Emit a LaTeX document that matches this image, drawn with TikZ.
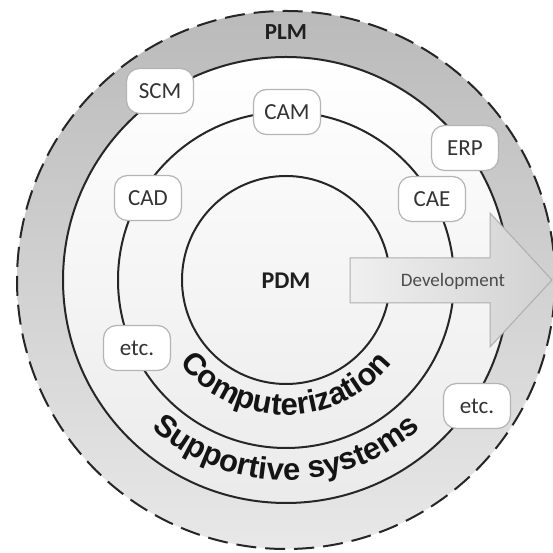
\documentclass[tikz,border=0pt]{standalone}
\usepackage{fontspec}
\setmainfont{Carlito}
\newfontfamily\arcfont{Liberation Sans}
\usetikzlibrary{decorations.text}
\definecolor{ink}{HTML}{262626}
\definecolor{tagline}{HTML}{B4B4B4}
\definecolor{tagtext}{HTML}{333333}
\definecolor{arrowline}{HTML}{AEAEAE}
\begin{document}
\begin{tikzpicture}[x=1pt,y=1pt,
  ring/.style={draw=ink,line width=2pt},
  tag/.style={draw=tagline,line width=1.2pt,fill=white,rounded corners=13pt,
    minimum width=67pt,minimum height=45pt,inner sep=0pt,
    font=\fontsize{23}{23}\selectfont,text=tagtext},
  curved/.style={decorate,decoration={text along path,text align=center,
    text={|\arcfont\bfseries\fontsize{31}{31}\selectfont\color{black!92}|#1}}}
  ]
\useasboundingbox (0,0) rectangle (552,553);
\coordinate (C) at (286,273);

% PLM band between the dashed boundary and the supportive ring
\shade[top color=black!27,bottom color=black!9] (C) circle[radius=269];
\draw[ink,line width=2pt,dash pattern=on 20pt off 9pt] (C) circle[radius=269];

% inner area
\shade[top color=white,bottom color=black!8] (C) circle[radius=223];
\draw[ring] (C) circle[radius=223];
\draw[ring] (C) circle[radius=168];
\draw[ring] (C) circle[radius=104];

% curved ring labels
\path[curved={Computerization}] (C) ++(200:135) arc[start angle=200,end angle=340,radius=135];
\path[curved={Supportive systems}] (C) ++(195:200) arc[start angle=195,end angle=345,radius=200];

% development arrow
\path[draw=arrowline,line width=1pt,left color=black!6,right color=black!18]
  (350,295) -- (490,295) -- (490,340) -- (552,273) -- (490,206) -- (490,250) -- (350,250) -- cycle;
\node[font=\fontsize{19}{19}\selectfont,text=black!70] (dev) at (453,272) {Development};

% centre and title
\node[font=\bfseries\fontsize{24}{24}\selectfont,text=black!88] (pdm) at (286,272) {PDM};
\node[font=\bfseries\fontsize{23}{23}\selectfont,text=black!88] (plm) at (286,521) {PLM};

% systems on the rings
\node[tag] (scm) at (160,462) {SCM};
\node[tag] (cam) at (287,441) {CAM};
\node[tag] (erp) at (465,405) {ERP};
\node[tag] (cad) at (148,355) {CAD};
\node[tag] (cae) at (432,354) {CAE};
\node[tag] (etc1) at (137,205) {etc.};
\node[tag] (etc2) at (477,147) {etc.};
\end{tikzpicture}
\end{document}
